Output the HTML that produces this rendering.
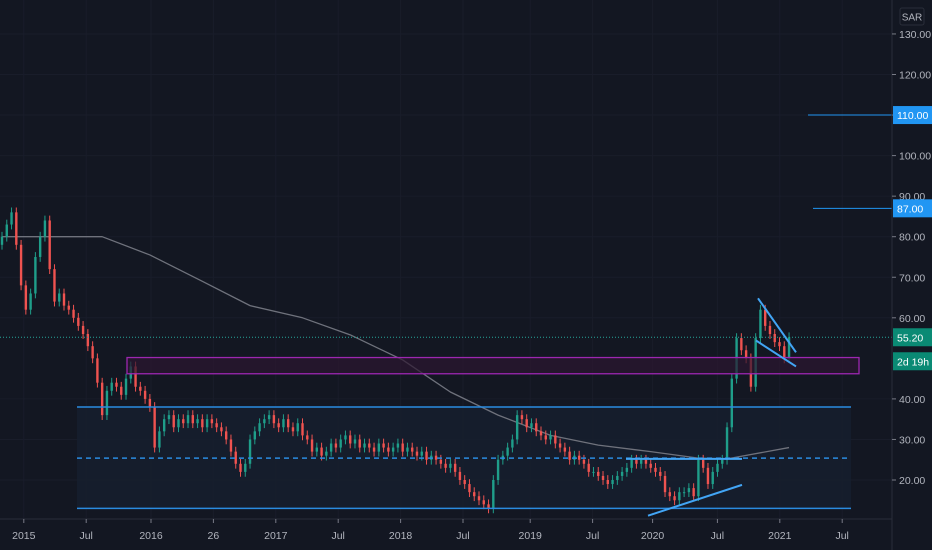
<!DOCTYPE html>
<html><head><meta charset="utf-8"><style>
html,body{margin:0;padding:0;background:#131722;}
svg{display:block;font-family:"Liberation Sans",sans-serif;}
</style></head><body>
<svg id="chart" width="932" height="550" viewBox="0 0 932 550" xmlns="http://www.w3.org/2000/svg">
<rect x="0" y="0" width="932" height="550" fill="#131722"/>
<g id="grid"></g>
<rect x="77" y="407" width="774" height="102" fill="#161e2e" opacity="0.85"/>
<g id="ma"></g>
<g id="candles"></g>
<g id="drawings"></g>
<line x1="892" y1="0" x2="892" y2="550" stroke="#2a2e39"/>
<line x1="0" y1="519" x2="892" y2="519" stroke="#2a2e39"/>
<g id="yaxis"></g>
<g id="xaxis"></g>
<rect x="900" y="8" width="24" height="17" rx="2" fill="#131722" stroke="#2a2e39"/>
<text x="912" y="20.5" font-size="10" fill="#b2b5be" text-anchor="middle">SAR</text>
</svg>
<script>
const closes=[80,83,86,78,68,62,66,75,80,84,
72,64,66,63,62,60,58,56,53,50,
44,36,42,44,43,41,45,48,43,42,
40,38,28,32,35,36,33,35,34,36,
34,35,33,35,34,33,32,30,27,24,
22,24,30,32,34,35,36,34,33,35,
33,32,34,31,30,27,28,26,27,29,
28,30,31,29,30,28,29,28,27,29,
28,27,28,29,27,28,27,26,27,25,
26,25,24,23,24,22,20,19,17,16,
15,14,13,20,25,26,28,30,36,35,
33,34,32,31,30,31,29,28,27,25,
26,25,24,22,22,21,20,19,20,21,
22,23,25,24,25,24,23,22,21,17,
16,15,17,17,18,16,25,23,19,22,
24,25,33,45,55,52,50,43,55,62,
58,56,54,53,50,55.2];
const firstOpen=78;
const maIdx=[0,21,31,42,52,63,73,84,94,104,115,125,136,146,152,165];
const maVals=[80,80,75.5,69,63,60,55.8,49.6,41.7,36,31,28.6,27,25.4,25.2,28];
const yTicks=[130,120,110,100,90,80,70,60,40,30,20];
const xLabels=["2015","Jul","2016","26","2017","Jul","2018","Jul","2019","Jul","2020","Jul","2021","Jul"];
const xLabelWeeks=[7,33,60,86,112,138,164,190,218,244,269,296,322,348];
const lastPrice=55.2;

const NS="http://www.w3.org/2000/svg";
const yS=p=>480-(p-20)*4.055;
const xBar=i=>2+i*4.77;
const xWeek=w=>7+w*2.4;
function mk(tag,attrs,parent){const e=document.createElementNS(NS,tag);for(const k in attrs)e.setAttribute(k,attrs[k]);parent.appendChild(e);return e;}
const grid=document.getElementById('grid'),cg=document.getElementById('candles'),ya=document.getElementById('yaxis'),xa=document.getElementById('xaxis'),dr=document.getElementById('drawings'),mag=document.getElementById('ma');

yTicks.forEach(t=>{
 const y=yS(t);
 const l=mk('line',{x1:0,x2:892,y1:y,y2:y,stroke:'#191d2a'},grid);
 
 
 const tk=mk('line',{x1:892,x2:896,y1:y,y2:y,stroke:'#787b86'},ya);
 
 
 const tx=mk('text',{x:899,y:y+4,'font-size':10.5,fill:'#b2b5be'},ya);
 tx.textContent=t.toFixed(2);
 
 
});
xLabels.forEach((s,i)=>{
 const x=xWeek(xLabelWeeks[i]);
 const l=mk('line',{x1:x,x2:x,y1:0,y2:519,stroke:'#191d2a'},grid);
 
 
 const tk=mk('line',{x1:x,x2:x,y1:519,y2:523,stroke:'#787b86'},xa);
 
 
 const tx=mk('text',{x:x,y:539,'font-size':10.5,fill:'#b2b5be','text-anchor':'middle'},xa);
 tx.textContent=s;
 
 
});
let pts=maIdx.map((d,i)=>xBar(d)+','+yS(maVals[i])).join(' ');
const ml=mk('polyline',{points:pts,fill:'none',stroke:'#6f727c','stroke-width':1.3,'stroke-linejoin':'round'},mag);



closes.forEach((c,i)=>{
 const o=i===0?firstOpen:closes[i-1];
 const up=c>=o;const col=up?'#1f9e8a':'#ef5350';
 const hi=Math.max(o,c)+1.2,lo=Math.min(o,c)-1.2;
 const x=xBar(i);
 const w=mk('line',{x1:x,x2:x,y1:yS(hi),y2:yS(lo),stroke:col,'stroke-width':1},cg);
 
 
 const top=yS(Math.max(o,c)),bot=yS(Math.min(o,c));
 const b=mk('rect',{x:x-1.2,y:top,width:2.4,height:Math.max(1,bot-top),fill:col},cg);
 
 
});

function line(x1,p1,x2,p2,attrs,name){const l=mk('line',Object.assign({x1:x1,y1:yS(p1),x2:x2,y2:yS(p2)},attrs),dr);return l;}
const blue={stroke:'#2a8be0','stroke-width':1.5};
line(77,38,851,38,blue,'range-top-line');
line(77,13,851,13,blue,'range-bottom-line');
line(77,25.4,851,25.4,{stroke:'#2a8be0','stroke-width':1.5,'stroke-dasharray':'5,4'},'range-mid-line');
const pb=mk('rect',{x:127,y:yS(50.2),width:732,height:yS(46.2)-yS(50.2),fill:'#2c1730','fill-opacity':0.7,stroke:'#9c27b0','stroke-width':1.3},dr);


const lb={stroke:'#42a5f5','stroke-width':2};
line(758,64.8,796,51.5,lb,'wedge-upper-line');
line(756,54.4,796,48,lb,'wedge-lower-line');
line(626,25.2,742,25.2,lb,'neckline');
line(648,11.2,742,18.8,lb,'rising-support-line');
line(808,110,892,110,{stroke:'#2196f3','stroke-width':1},'target-110-line');
line(813,87,892,87,{stroke:'#2196f3','stroke-width':1},'target-87-line');
const pl=mk('line',{x1:0,x2:892,y1:yS(lastPrice),y2:yS(lastPrice),stroke:'#26a69a','stroke-dasharray':'1,2'},dr);



function tag(yc,txt,bg,name){const r=mk('rect',{x:893,y:yc-9,width:39,height:18,fill:bg},ya);const t=mk('text',{x:897,y:yc+4,'font-size':10.5,fill:'#ffffff'},ya);t.textContent=txt;}
tag(yS(110),'110.00','#2196f3','label-110');
tag(yS(87),'87.00','#2196f3','label-87');
tag(yS(lastPrice),lastPrice.toFixed(2),'#0a8a74','last-price-label');
tag(yS(lastPrice)+24,'2d 19h','#0a8a74','countdown-label');
</script>
</body></html>
